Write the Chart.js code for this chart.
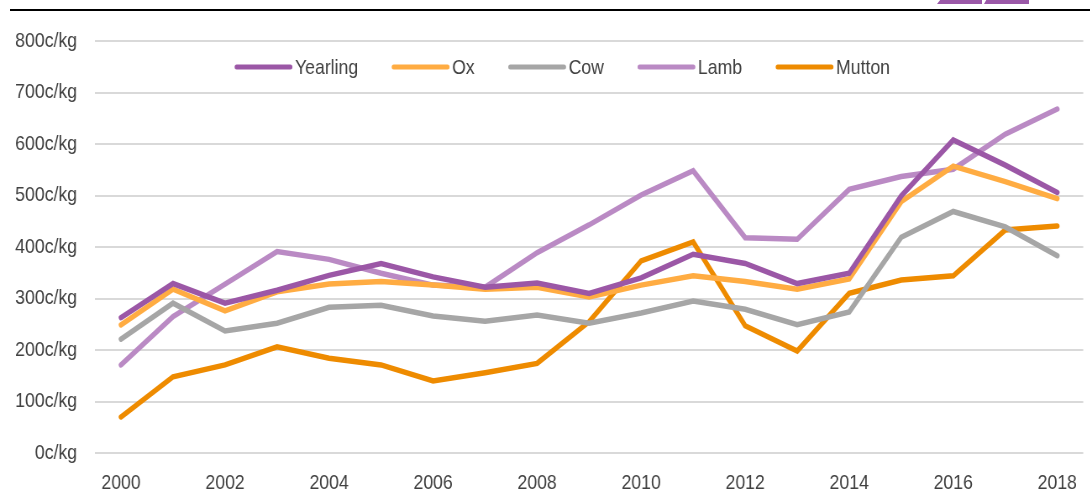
<!DOCTYPE html>
<html><head><meta charset="utf-8">
<script src="https://cdn.jsdelivr.net/npm/chart.js@4/dist/chart.umd.min.js"></script>
<style>
html,body{margin:0;padding:0;background:#fff;overflow:hidden;width:1090px;height:504px;}
#page{position:relative;width:1090px;height:504px;overflow:hidden;}
#wrap{position:absolute;left:0;top:0;width:1300px;height:504px;transform:scaleX(0.84);transform-origin:0 0;}
#topline{position:absolute;left:10px;top:9px;width:1080px;height:2px;background:#000;}
.logo{position:absolute;top:0;height:4px;background:#9B59A8;}
</style></head><body>
<div id="page">
<div id="wrap"><canvas id="c" width="1300" height="504"></canvas></div>
<div id="topline"></div>
<div class="logo" style="left:937px;width:45px;clip-path:polygon(7% 0,100% 0,100% 100%,0 100%)"></div>
<div class="logo" style="left:984px;width:45px;clip-path:polygon(5% 0,100% 0,100% 100%,0 100%)"></div>
</div>
<script>
const years = ['2000','2001','2002','2003','2004','2005','2006','2007','2008','2009','2010','2011','2012','2013','2014','2015','2016','2017','2018'];
const yearling = [263,329,291,316,345,368,342,322,330,310,340,386,368,329,349,499,608,559,506];
const ox       = [249,318,276,313,328,333,326,318,322,303,326,344,333,318,338,488,557,527,494];
const cow      = [221,291,237,252,283,287,266,256,268,252,272,295,279,249,274,419,469,439,383];
const lamb     = [171,265,328,391,376,349,326,322,389,443,501,548,418,415,512,537,551,619,668];
const mutton   = [70,148,171,206,184,171,140,156,174,255,373,410,247,198,310,336,344,433,441];
const seriesNames = ['Yearling','Ox','Cow','Lamb','Mutton'];
const yTicks = [0,100,200,300,400,500,600,700,800];

const SX = 0.84; // horizontal compression to mimic narrow font
const FAMILY = '"Liberation Sans", Arial, sans-serif';
const FSIZE = 21;
const TXT = '#404040';
const colors = ['#9B57A6','#FFAC42','#A6A6A6','#BA8AC4','#EE8B00'];
const dataArr = [yearling, ox, cow, lamb, mutton];

const legendPlugin = {
  id:'customLegend',
  afterDraw(chart){
    const ctx = chart.ctx;
    ctx.save();
    ctx.font = FSIZE+'px '+FAMILY;
    ctx.textBaseline = 'middle';
    const lineLen = 57/SX, gap = 3/SX, itemGap = 34/SX;
    let x = 235/SX, y = 67;
    chart.data.datasets.forEach(d=>{
      ctx.strokeStyle = d.borderColor; ctx.lineWidth = 5; ctx.lineCap='round';
      ctx.beginPath(); ctx.moveTo(x+2,y); ctx.lineTo(x+lineLen-2,y); ctx.stroke();
      ctx.fillStyle = TXT; ctx.textAlign='left';
      ctx.fillText(d.label, x+lineLen+gap, y+1);
      x += lineLen+gap+ctx.measureText(d.label).width+itemGap;
    });
    ctx.restore();
  }
};

new Chart(document.getElementById('c'), {
  type:'line',
  data:{
    labels: years,
    datasets: seriesNames.map((n,i)=>({
      label:n, data:dataArr[i], borderColor:colors[i], backgroundColor:colors[i],
      borderWidth:5.5, pointRadius:0, pointHoverRadius:0, tension:0, fill:false,
      borderCapStyle:'round', borderJoinStyle:'miter'
    }))
  },
  options:{
    responsive:false, animation:false, devicePixelRatio:1,
    layout:{padding:{top:41,left:0,right:0,bottom:0}},
    plugins:{legend:{display:false}, tooltip:{enabled:false}},
    scales:{
      x:{
        offset:true,
        grid:{display:false, drawTicks:false},
        border:{display:false},
        ticks:{autoSkip:false, maxRotation:0, padding:18, color:TXT, font:{family:FAMILY,size:FSIZE},
          callback:function(v,i){ return (i%2===0)? years[i] : ''; }},
        afterFit(s){ s.height = 51; }
      },
      y:{
        min:0, max:800,
        afterBuildTicks(s){ s.ticks = yTicks.map(v=>({value:v})); },
        grid:{color:'#D9D9D9', lineWidth:2, drawTicks:false},
        border:{display:false},
        ticks:{padding:18/SX, color:TXT, font:{family:FAMILY,size:FSIZE}, callback:v=>v+'c/kg'},
        afterFit(s){ s.width = 95/SX; }
      }
    }
  },
  plugins:[legendPlugin]
});
</script>
</body></html>
